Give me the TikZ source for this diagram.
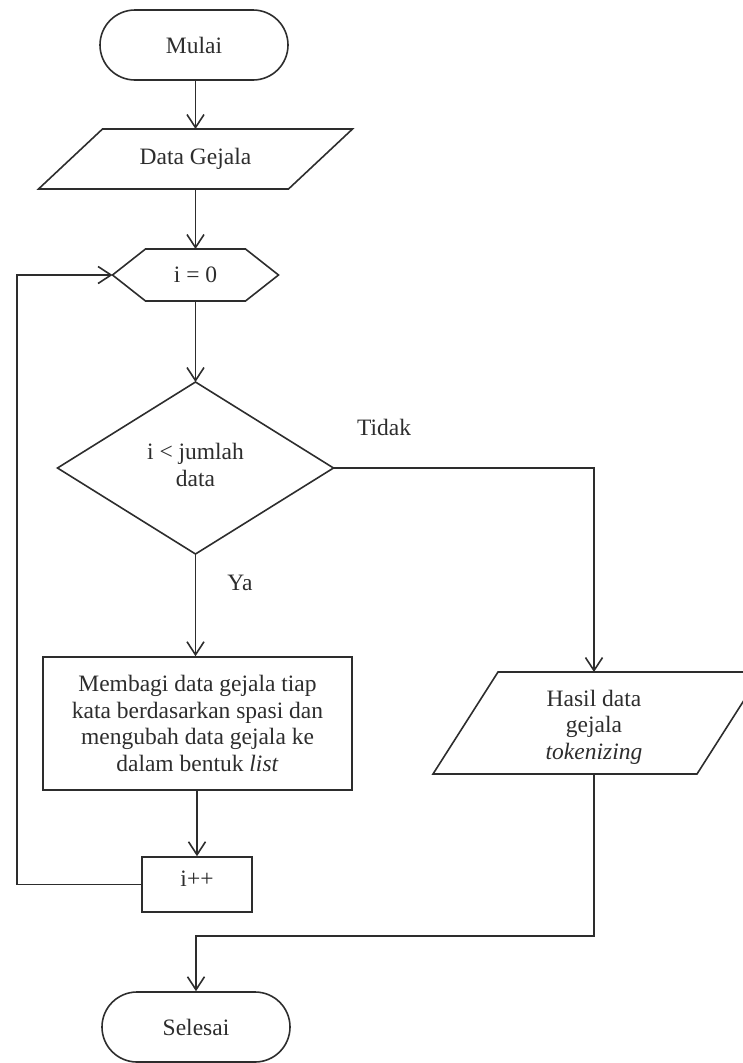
\documentclass[tikz,border=0pt]{standalone}
\usepackage{fontspec}
\setmainfont{Liberation Serif}
\usetikzlibrary{arrows.meta,calc}
\definecolor{ink}{RGB}{45,45,45}
\begin{document}
\begin{tikzpicture}[x=1pt,y=-1pt,
  line/.style={draw=ink,line width=1.6pt,line join=miter},
  arrow/.style={line,-{Straight Barb[length=13pt,width=17pt,line width=1.6pt]}},
  txt/.style={text=ink,font=\fontsize{23.5}{26.5}\selectfont,align=center,inner sep=0pt},
  terminal/.style={txt,line,rectangle,rounded corners=35pt,minimum width=188pt,minimum height=70pt},
  box/.style={txt,line,rectangle}
]
\useasboundingbox (0,0) rectangle (743,1063);

% start / end terminals
\node[terminal] (start) at (194,45) {Mulai};
\node[terminal] (stop) at (196,1027) {Selesai};

% input: Data Gejala
\node[txt] (data) at (195.5,159) {Data Gejala};
\draw[line] ($(data)+(-93,-30)$) -- ($(data)+(157,-30)$) -- ($(data)+(93,30)$) -- ($(data)+(-157,30)$) -- cycle;
\coordinate (data-n) at ($(data)+(0,-30)$);
\coordinate (data-s) at ($(data)+(0,30)$);

% initialisation hexagon
\node[txt] (init) at (195.5,275) {i = 0};
\draw[line] ($(init)+(-83,0)$) -- ($(init)+(-50,-26)$) -- ($(init)+(50,-26)$) -- ($(init)+(83,0)$) -- ($(init)+(50,26)$) -- ($(init)+(-50,26)$) -- cycle;
\coordinate (init-n) at ($(init)+(0,-26)$);
\coordinate (init-s) at ($(init)+(0,26)$);
\coordinate (init-w) at ($(init)+(-83,0)$);

% decision
\node[txt] (cond) at (195.5,465) {i < jumlah\\data};
\coordinate (dec) at (195.5,468);
\draw[line] ($(dec)+(0,-86)$) -- ($(dec)+(138,0)$) -- ($(dec)+(0,86)$) -- ($(dec)+(-138,0)$) -- cycle;
\coordinate (dec-n) at ($(dec)+(0,-86)$);
\coordinate (dec-s) at ($(dec)+(0,86)$);
\coordinate (dec-e) at ($(dec)+(138,0)$);

% processing step
\node[box,minimum width=309pt,minimum height=133pt] (proc) at (197.5,723.5)
  {Membagi data gejala tiap\\kata berdasarkan spasi dan\\mengubah data gejala ke\\dalam bentuk \textit{list}};

% increment
\node[box,minimum width=110pt,minimum height=55pt,text depth=12pt] (inc) at (197,884.5) {i++};

% output: tokenizing result
\node[txt] (out) at (594,727) {Hasil data\\gejala\\\textit{tokenizing}};
\coordinate (outc) at (594,723);
\draw[line] ($(outc)+(-96,-51)$) -- ($(outc)+(168,-51)$) -- ($(outc)+(103,51)$) -- ($(outc)+(-161,51)$) -- cycle;
\coordinate (out-n) at ($(outc)+(0,-51)$);
\coordinate (out-s) at ($(outc)+(0,51)$);

% labels
\node[txt] (no) at (384,427) {Tidak};
\node[txt] (yes) at (240,583) {Ya};

% connectors
\coordinate (loop) at (17,884.5);
\coordinate (join) at (196,936);
\draw[arrow] (start.south -| data-n) -- (data-n);
\draw[arrow] (data-s) -- (init-n);
\draw[arrow] (init-s) -- (dec-n);
\draw[arrow] (dec-s) -- (dec-s |- proc.north);
\draw[arrow] (proc.south -| inc.north) -- (inc.north);
\draw[arrow] (inc.west) -- (loop) |- (init-w);
\draw[arrow] (dec-e) -| (out-n);
\draw[arrow] (out-s) |- (join) -- (stop.north);
\end{tikzpicture}
\end{document}
